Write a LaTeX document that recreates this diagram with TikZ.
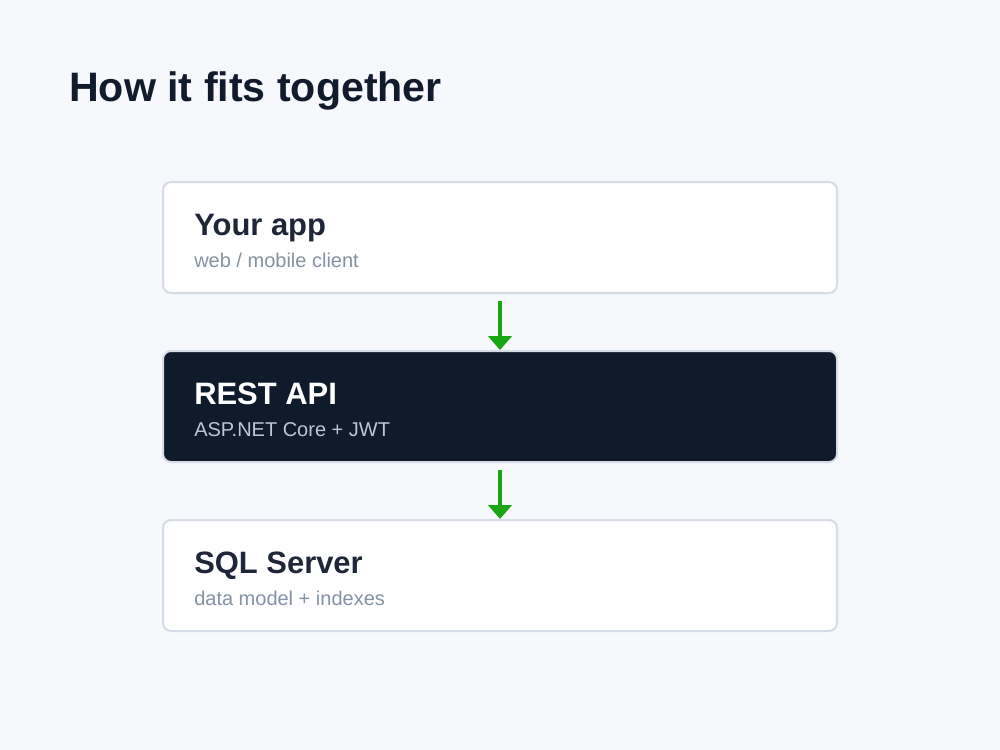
\documentclass[tikz,border=0pt]{standalone}
\usepackage{fontspec}
\setmainfont{Liberation Sans}
\usetikzlibrary{arrows.meta}
\definecolor{bg}{HTML}{F6F8FB}
\definecolor{titlec}{HTML}{111B2B}
\definecolor{headc}{HTML}{1E2638}
\definecolor{subc}{HTML}{8592A4}
\definecolor{darkbox}{HTML}{0F1B2B}
\definecolor{darksub}{HTML}{BCC6D4}
\definecolor{borderc}{HTML}{D6DCE5}
\definecolor{arrowc}{HTML}{1AA512}
\begin{document}
\begin{tikzpicture}[x=0.75pt,y=-0.75pt,
  box/.style={draw=borderc,line width=1.5pt,fill=white,rounded corners=6pt,
    minimum width=505.5pt,minimum height=83.25pt,inner sep=0pt},
  darkbx/.style={box,fill=darkbox,draw=borderc},
  head/.style={anchor=base west,inner sep=0pt,font=\fontsize{23.2pt}{27pt}\selectfont\bfseries,text=headc},
  sub/.style={anchor=base west,inner sep=0pt,font=\fontsize{15pt}{18pt}\selectfont,text=subc},
  arr/.style={draw=arrowc,line width=3.5pt,-{Triangle[width=17.5pt,length=10.5pt]}}
]
\fill[bg] (0,0) rectangle (1000,750);
\useasboundingbox (0,0) rectangle (1000,750);
\node[anchor=base west,inner sep=0pt,font=\fontsize{30.85pt}{36pt}\selectfont\bfseries,text=titlec] (title) at (69,101) {How it fits together};
\node[box] (b1) at (500,237.5) {};
\node[darkbx] (b2) at (500,406.5) {};
\node[box] (b3) at (500,575.5) {};
\node[head] (h1) at (194,235) {Your app};
\node[sub] (s1) at (194,267) {web / mobile client};
\node[head,text=white] (h2) at (194,404) {REST API};
\node[sub,text=darksub] (s2) at (194,436) {ASP.NET Core + JWT};
\node[head] (h3) at (194,573) {SQL Server};
\node[sub] (s3) at (194,605) {data model + indexes};
\draw[arr] ([yshift=-5.25pt]b1.south) -- (b2.north);
\draw[arr] ([yshift=-5.25pt]b2.south) -- (b3.north);
\end{tikzpicture}
\end{document}
